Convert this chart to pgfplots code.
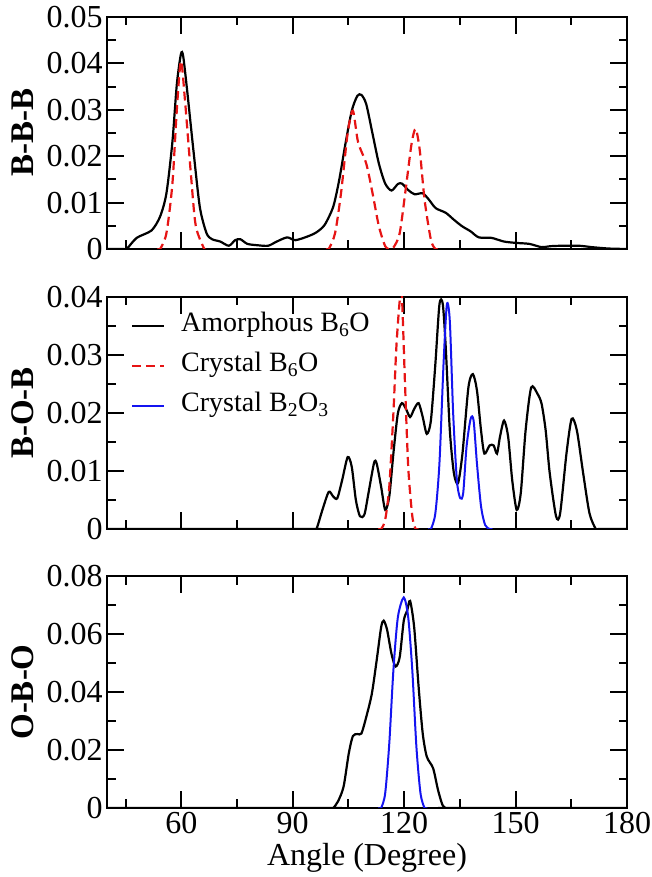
\documentclass[border=0pt]{standalone}
\usepackage{fontspec}
\setmainfont{Liberation Serif}
\usepackage{pgfplots}
\pgfplotsset{compat=1.18}
\definecolor{cred}{RGB}{230,20,20}
\definecolor{cblue}{RGB}{20,20,240}
\pgfplotsset{
  panel/.style={
    scale only axis, width=520pt, height=232pt,
    xmin=40, xmax=180,
    xtick={60,90,120,150,180}, minor xtick={45,75,105,135,165},
    tick align=inside, major tick length=17pt, minor tick length=8.5pt,
    line width=2pt,
    axis line style={line width=2pt},
    every tick/.style={line width=2pt, black},
    tick label style={font=\fontsize{32}{32}\selectfont},
    /pgf/number format/assume math mode=true,
    scaled y ticks=false,
    every axis y label/.style={at={(axis description cs:0,0.5)}, xshift=-84pt, rotate=90, anchor=center, font=\fontsize{33}{33}\selectfont\bfseries},
    every axis x label/.style={at={(axis description cs:0.5,0)}, yshift=-50pt, anchor=center, font=\fontsize{32}{32}\selectfont},
    clip=true,
  },
  amo/.style={black, line width=2.2pt, smooth, tension=0.45},
  cb6/.style={cred, line width=2.2pt, dash pattern=on 9pt off 5pt, smooth, tension=0.45},
  cb2/.style={cblue, line width=2pt, smooth, tension=0.45},
}
\begin{document}
\begin{tikzpicture}[x=1pt,y=1pt]
\useasboundingbox (0,0) rectangle (651,877);
% ---------- top panel ----------
\begin{axis}[panel, at={(107pt,628pt)}, anchor=south west,
  ymin=0, ymax=0.05,
  ytick={0,0.01,0.02,0.03,0.04,0.05},
  yticklabels={0,0.01,0.02,0.03,0.04,0.05},
  minor ytick={0.005,0.015,0.025,0.035,0.045},
  xticklabels={},
  ylabel={B-B-B}]
\addplot[amo] coordinates {
(40,0) (44.5,0) (45.3,0) (48,0.0024) (52,0.004) (54.3,0.007) (56,0.012) (57.6,0.023) (58.8,0.0355)
(59.9,0.042) (60.5,0.0416) (61.6,0.034) (63.3,0.021) (65,0.009) (66.8,0.0034) (68.3,0.0021)
(70.5,0.0016) (72.8,0.0007) (74.5,0.0019) (75.9,0.0021) (77.8,0.0011) (80.6,0.0008) (83.4,0.0007)
(85.7,0.0016) (88.5,0.0025) (90.7,0.0019) (94,0.0027) (96.4,0.0036) (98.6,0.0052) (100.9,0.0091)
(102.5,0.0148) (104.2,0.0227) (105.9,0.0298) (107.4,0.033) (108.5,0.0332) (109.8,0.0312)
(111.5,0.0248) (113.2,0.0184) (114.9,0.0141) (116.6,0.0126) (118.3,0.014) (119.4,0.0141)
(121.1,0.0127) (122.8,0.0118) (125,0.012) (126.7,0.0106) (128.5,0.0088) (131.2,0.0078)
(133.4,0.0063) (135.6,0.0049) (137.9,0.0038) (140.1,0.0025) (143.5,0.0024) (146.9,0.0016)
(150.3,0.0013) (153.7,0.0011) (157,0.0004) (159.3,0.0006) (162.6,0.0007) (167.1,0.0007)
(170.5,0.0004) (175,0.0001) (180,0)};
\addplot[cb6] coordinates {
(53.5,0) (54.3,0) (56,0.0034) (57.6,0.014) (58.8,0.03) (59.9,0.0405) (61,0.032) (62.6,0.016)
(63.9,0.005) (66.2,0) (67,0)};
\addplot[cb6] coordinates {
(98.9,0) (99.7,0) (101.4,0.0034) (103,0.012) (104.8,0.025) (106.2,0.0298)
(107.6,0.023) (109.8,0.0184) (111.5,0.012) (113.2,0.0049) (114.9,0.0006) (116,0) (117.1,0.0003)
(118.8,0.0034) (120.5,0.0134) (122,0.0227) (123.1,0.0259) (124.2,0.0213) (125.5,0.0106)
(127.2,0.002) (128.4,0) (129.2,0)};
\end{axis}
% ---------- middle panel ----------
\begin{axis}[panel, at={(107pt,348pt)}, anchor=south west,
  ymin=0, ymax=0.04,
  ytick={0,0.01,0.02,0.03,0.04},
  yticklabels={0,0.01,0.02,0.03,0.04},
  minor ytick={0.005,0.015,0.025,0.035},
  xticklabels={},
  ylabel={B-O-B},
  legend style={at={(axis description cs:0,1)}, anchor=north west, draw=none, fill=none,
    font=\fontsize{28}{28}\selectfont, xshift=20pt, yshift=-12pt,
    nodes={inner sep=0pt, text height=20pt, text depth=8pt},
    row sep=12pt, /tikz/every odd column/.style={column sep=16pt}},
  legend cell align=left,
  legend image code/.code={\draw[#1, sharp plot] (0pt,0pt) -- (32pt,0pt);}]
\addplot[amo] coordinates {
(40,0) (95.6,0) (96.4,0) (98,0.0033) (99.7,0.0064) (100.9,0.0056) (102,0.0053) (103.3,0.0084)
(104.8,0.0124) (105.9,0.0107) (107,0.005) (108.1,0.0022) (109.3,0.0025) (110.4,0.0062)
(111.9,0.0114) (112.6,0.0113) (113.8,0.0073) (114.9,0.0033) (116,0.0056) (117.1,0.013)
(118.3,0.0199) (119.4,0.0217) (120.5,0.0207) (121.6,0.0193) (122.7,0.0207) (123.9,0.0217)
(125,0.0193) (126.1,0.0164) (127.2,0.0187) (128.4,0.0284) (129.5,0.0387) (130.4,0.0388)
(131.2,0.0313) (132.3,0.017) (133.4,0.0096) (134.5,0.0079) (135.7,0.013) (137.3,0.0244)
(138.5,0.0267) (139.6,0.0239) (140.7,0.017) (141.6,0.013) (143,0.0144) (144.1,0.0144)
(145,0.013) (145.8,0.0159) (146.9,0.0187) (148,0.0159) (149.1,0.0084) (150.3,0.0033)
(151.4,0.0062) (152.7,0.017) (154.2,0.0244) (155.9,0.0233) (157,0.0216) (158.1,0.017)
(159.2,0.0096) (160.9,0.0022) (162,0.0027) (163.7,0.013) (165.1,0.019) (166.5,0.017)
(168.2,0.0096) (169.9,0.0027) (171.6,0) (172.4,0) (180,0)};
\addlegendentry{Amorphous B\textsubscript{6}O}
\addplot[cb6] coordinates {
(113,0) (113.8,0) (114.9,0.0016) (116,0.0073) (117.1,0.0199) (117.9,0.0313) (118.8,0.0393)
(119.4,0.0400) (120.2,0.0256) (121.1,0.0107) (122.2,0.0022) (123.1,0) (123.9,0)};
\addlegendentry{Crystal B\textsubscript{6}O}
\addplot[cb2] coordinates {
(126.4,0) (127.2,0) (128.4,0.0027) (129.5,0.0113) (130.6,0.0284) (131.5,0.0387) (132.3,0.0358)
(133.2,0.0199) (134.2,0.0084) (135.1,0.0053) (135.9,0.0062) (136.8,0.0142) (137.9,0.019)
(138.7,0.0187) (139.6,0.0113) (140.7,0.0039) (141.8,0.0007) (143,0) (143.8,0)};
\addlegendentry{Crystal B\textsubscript{2}O\textsubscript{3}}
\end{axis}
% ---------- bottom panel ----------
\begin{axis}[panel, at={(107pt,69pt)}, anchor=south west,
  ymin=0, ymax=0.08,
  ytick={0,0.02,0.04,0.06,0.08},
  yticklabels={0,0.02,0.04,0.06,0.08},
  minor ytick={0.01,0.03,0.05,0.07},
  xticklabels={60,90,120,150,180},
  ylabel={O-B-O},
  xlabel={Angle (Degree)}]
\addplot[amo] coordinates {
(40,0) (100.1,0) (100.9,0) (102.2,0.0023) (103.7,0.0074) (105.1,0.0189) (106.2,0.0248) (107.4,0.0255)
(108.5,0.0257) (109.8,0.0314) (111.3,0.0394) (112.6,0.0509) (113.8,0.0623) (114.5,0.0646)
(115.4,0.0615) (116.6,0.0531) (117.7,0.0488) (118.8,0.052) (119.9,0.0646) (120.8,0.068)
(121.6,0.0714) (122.7,0.0623) (123.9,0.0417) (125,0.0257) (126.1,0.0177) (127.8,0.0137)
(129.1,0.0063) (130.3,0.0011) (131.2,0) (132,0) (180,0)};
\addplot[cb2] coordinates {
(113,0) (113.8,0) (114.9,0.0051) (116,0.0223) (117.1,0.0474) (118.3,0.0657) (119.9,0.0726)
(121.1,0.0657) (122.2,0.0474) (123.3,0.0211) (124.4,0.0051) (125.5,0) (126.3,0)};
\end{axis}
\end{tikzpicture}
\end{document}
